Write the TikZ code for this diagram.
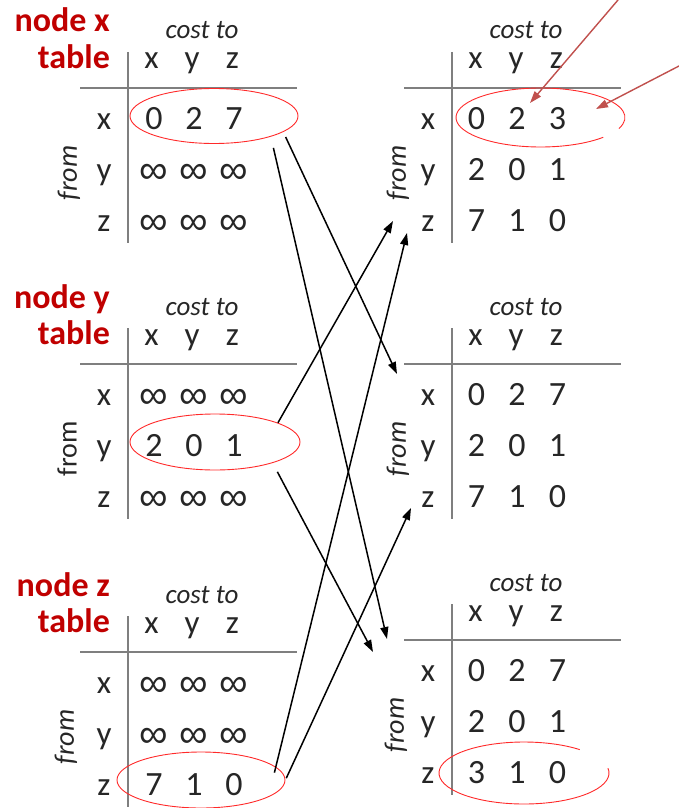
\documentclass[tikz,border=0pt]{standalone}
\usepackage{fontspec}
\setmainfont{Carlito}
\newfontfamily\symfont{Liberation Sans}
\usetikzlibrary{arrows.meta,shapes.geometric}
\definecolor{ink}{HTML}{262626}
\definecolor{nodered}{HTML}{C00000}
\definecolor{ovalred}{HTML}{FF2A2A}
\definecolor{rulegray}{HTML}{7F7F7F}
\definecolor{pointer}{HTML}{C0504D}
\newcommand{\infsym}{{\symfont\fontsize{40}{40}\selectfont\raisebox{-3pt}{∞}}}

\begin{document}
\begin{tikzpicture}[x=1pt, y=-1pt,
        txt/.style={text=ink, inner sep=0pt, anchor=base},
        costlbl/.style={txt, font=\fontsize{27}{27}\selectfont\itshape},
        collbl/.style={txt, font=\fontsize{33}{33}\selectfont},
        rowlbl/.style={txt, font=\fontsize{33}{33}\selectfont},
        entry/.style={txt, font=\fontsize{34}{34}\selectfont},
        fromlbl/.style={text=ink, inner sep=0pt, rotate=90, font=\fontsize{28}{28}\selectfont},
        title/.style={text=nodered, inner sep=0pt, anchor=base east, font=\fontsize{34}{34}\selectfont\bfseries},
        rule/.style={draw=rulegray, line width=1.8pt},
        oval/.style={ellipse, draw=ovalred, line width=0.9pt, inner sep=0pt},
        openoval/.style={draw=ovalred, line width=0.9pt},
        update/.style={draw=black, line width=1.5pt, -{Triangle[length=12pt,width=8pt]}},
        note/.style={draw=pointer, line width=1.4pt, -{Triangle[length=12pt,width=8pt]}}]

        \useasboundingbox (0,0) rectangle (679,808);

        \foreach \t/\px/\py/\fx/\ff in {xt0/0/88/69/\itshape, yt0/0/364/67/\upshape, zt0/0/652/66/\itshape,
                xt1/324/88/398/\itshape, yt1/324/364/398/\itshape, zt1/324/640/396/\itshape} {
            \node[costlbl] (\t-cost) at (\px+202, \py-49) {cost to};
            \foreach \c [count=\i] in {x,y,z} {
                \node[collbl] (\t-c\i) at (\px+111+40.5*\i, \py-19) {\c};
                \node[rowlbl] (\t-r\i) at (\px+104, \py-10+51*\i) {\c};
            }
            \node[fromlbl] (\t-from) at (\fx, \py+85) {\ff from};
            \draw[rule] (\px+80, \py) -- (\px+297, \py);
            \draw[rule] (\px+128, \py-36) -- (\px+128, \py+155);
        }

        \foreach \t/\n/\py in {xt0/x/88, yt0/y/364, zt0/z/652} {
            \node[title] (\t-name) at (110, \py-56) {node \n};
            \node[title] (\t-tab) at (110, \py-20) {table};
        }

        \foreach \row [count=\j] in {{0,2,7},{\infsym,\infsym,\infsym},{\infsym,\infsym,\infsym}}
            \foreach \v [count=\i] in \row
                \node[entry] (xt0-\j\i) at (114+40*\i, 78+51*\j) {\v};
        \foreach \row [count=\j] in {{\infsym,\infsym,\infsym},{2,0,1},{\infsym,\infsym,\infsym}}
            \foreach \v [count=\i] in \row
                \node[entry] (yt0-\j\i) at (114+40*\i, 354+51*\j) {\v};
        \foreach \row [count=\j] in {{\infsym,\infsym,\infsym},{\infsym,\infsym,\infsym},{7,1,0}}
            \foreach \v [count=\i] in \row
                \node[entry] (zt0-\j\i) at (114+40*\i, 642+51*\j) {\v};
        \foreach \row [count=\j] in {{0,2,3},{2,0,1},{7,1,0}}
            \foreach \v [count=\i] in \row
                \node[entry] (xt1-\j\i) at (436+40.5*\i, 78+51*\j) {\v};
        \foreach \row [count=\j] in {{0,2,7},{2,0,1},{7,1,0}}
            \foreach \v [count=\i] in \row
                \node[entry] (yt1-\j\i) at (436+40.5*\i, 354+51*\j) {\v};
        \foreach \row [count=\j] in {{0,2,7},{2,0,1},{3,1,0}}
            \foreach \v [count=\i] in \row
                \node[entry] (zt1-\j\i) at (436+40.5*\i, 630+51*\j) {\v};

        \node[oval, minimum width=168pt, minimum height=55pt] (xt0-own) at (214,116) {};
        \node[oval, minimum width=170pt, minimum height=56pt] (yt0-own) at (215,442) {};
        \node[oval, minimum width=168pt, minimum height=56pt] (zt0-own) at (201,780) {};
        \draw[openoval] (540.5,117.5) ++(42:84.5 and 29.5) arc[start angle=42, end angle=382, x radius=84.5, y radius=29.5];
        \draw[openoval] (524,773) ++(-9:85 and 31) arc[start angle=-9, end angle=311, x radius=85, y radius=31];

        \coordinate (yt1-fromx) at (397,374);
        \coordinate (zt1-fromx) at (387,639);
        \coordinate (xt1-fromy) at (393,221);
        \coordinate (zt1-fromy) at (373,652);
        \coordinate (xt1-fromz) at (407,233);
        \coordinate (yt1-fromz) at (411,508);

        \draw[update, shorten <=5.5pt] (xt0-own.-13) -- (yt1-fromx);
        \draw[update, shorten <=11.5pt] (xt0-own.-20) -- (zt1-fromx);
        \draw[update] (yt0-own.17) -- (xt1-fromy);
        \draw[update, shorten <=10pt] (yt0-own.-20.5) -- (zt1-fromy);
        \draw[update, shorten <=-6pt] (zt0-own.10.5) -- (xt1-fromz);
        \draw[update, shorten <=2pt] (zt0-own.0) -- (yt1-fromz);

        \coordinate (pa) at (618,0);
        \coordinate (pb) at (679,66);
        \coordinate (xt1-y) at (530,103);
        \coordinate (xt1-z) at (596,109);
        \draw[note] (pa) -- (xt1-y);
        \draw[note] (pb) -- (xt1-z);
    \end{tikzpicture}
\end{document}
